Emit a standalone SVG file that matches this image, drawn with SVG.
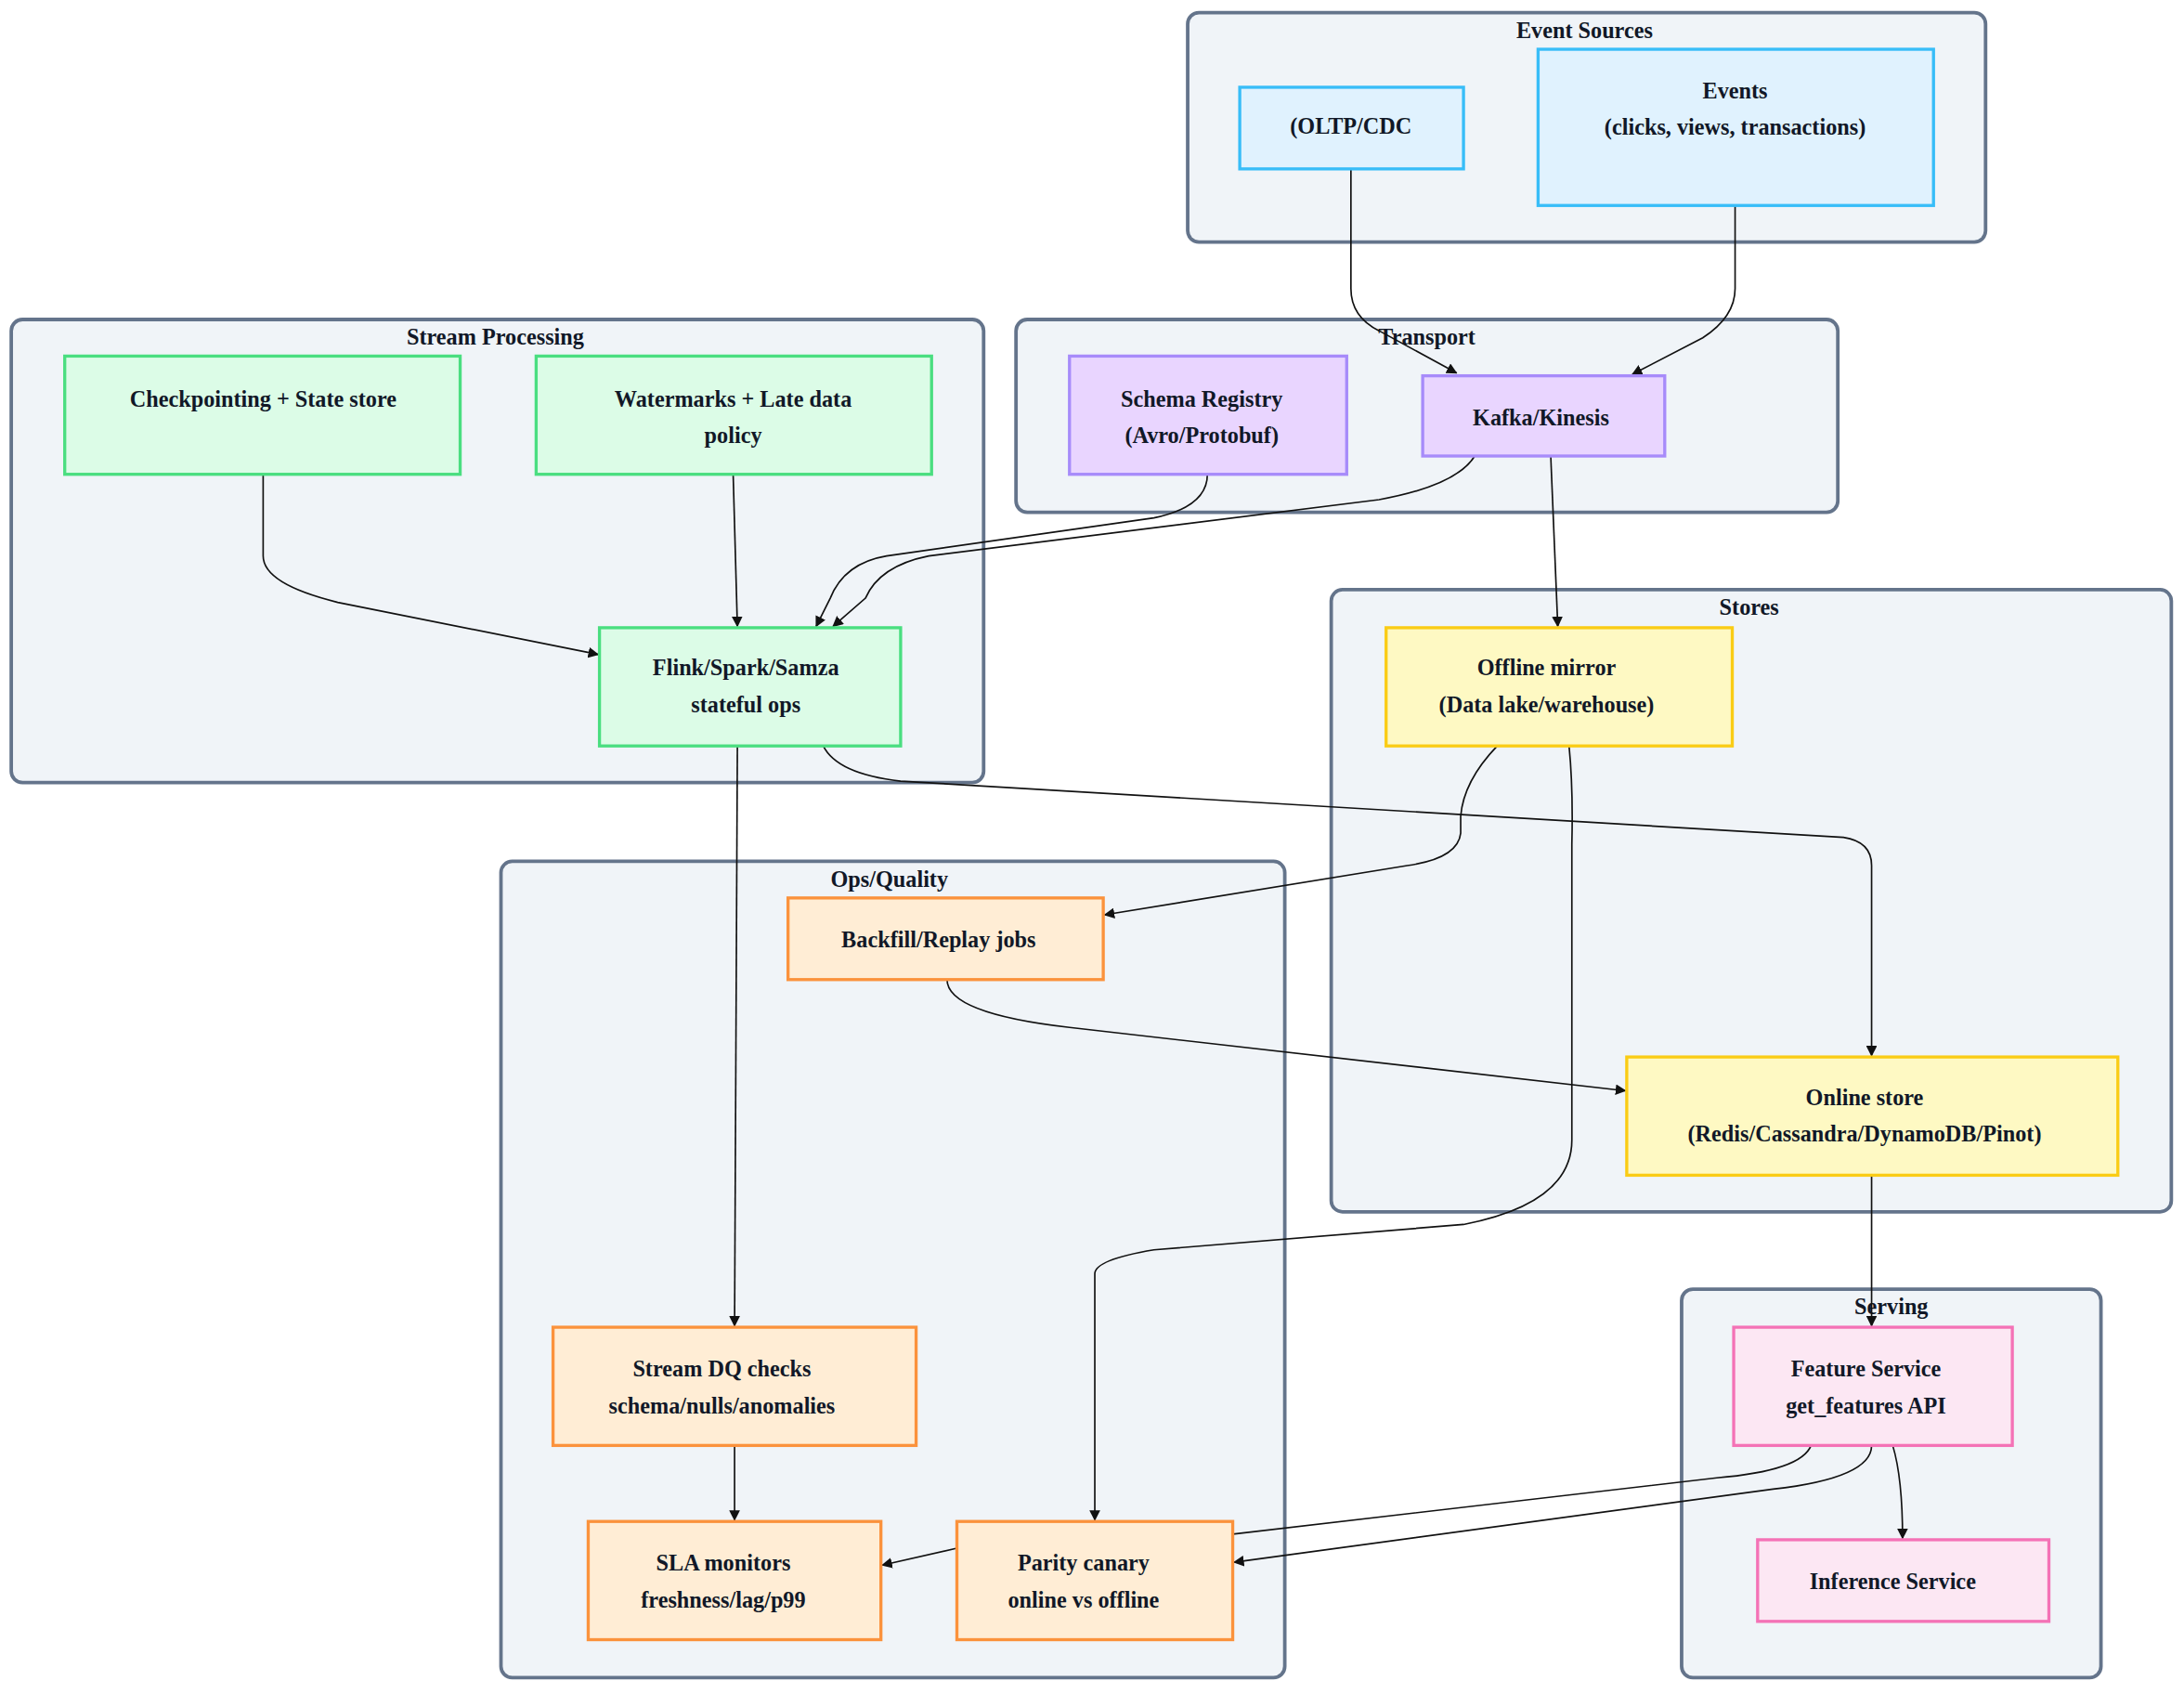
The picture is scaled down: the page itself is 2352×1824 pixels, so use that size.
<svg xmlns="http://www.w3.org/2000/svg" width="2352" height="1824" viewBox="0 0 2352 1824">
<style>
text{font-family:"Liberation Serif","Times New Roman",serif;font-weight:bold;font-size:16px;fill:#111827;text-anchor:middle}
.cl{fill:#f0f4f8;stroke:#64748b;stroke-width:2.5}
.b{fill:#e0f2fe;stroke:#38bdf8;stroke-width:2.2}
.g{fill:#dcfce7;stroke:#4ade80;stroke-width:2.2}
.p{fill:#e9d5ff;stroke:#a78bfa;stroke-width:2.2}
.y{fill:#fef9c3;stroke:#facc15;stroke-width:2.2}
.o{fill:#ffedd5;stroke:#fb923c;stroke-width:2.2}
.k{fill:#fce7f3;stroke:#f472b6;stroke-width:2.2}
.e{fill:none;stroke:#111;stroke-width:1.1}
</style>
<defs><marker id="a" viewBox="0 0 10 10" refX="9" refY="5" markerWidth="7" markerHeight="7" orient="auto"><path d="M0,0L10,5L0,10z" fill="#111"/></marker></defs>
<rect width="2352" height="1824" fill="#fff"/>
<g transform="scale(1.51546)">
<g id="clusters">
<rect class="cl" x="844" y="9" width="567" height="163" rx="8"/><text x="1126" y="27">Event Sources</text>
<rect class="cl" x="8" y="227" width="691" height="329" rx="8"/><text x="352" y="245">Stream Processing</text>
<rect class="cl" x="722" y="227" width="584" height="137" rx="8"/><text x="1014" y="245">Transport</text>
<rect class="cl" x="946" y="419" width="597" height="442" rx="8"/><text x="1243" y="437">Stores</text>
<rect class="cl" x="356" y="612" width="557" height="580" rx="8"/><text x="632" y="630">Ops/Quality</text>
<rect class="cl" x="1195" y="916" width="298" height="276" rx="8"/><text x="1344" y="934">Serving</text>
</g>
<g id="edges">
<path class="e" marker-end="url(#a)" d="M960,120V205Q960,225 980,235L1035,265"/>
<path class="e" marker-end="url(#a)" d="M1233,146V205Q1233,225 1210,240L1160,266"/>
<path class="e" marker-end="url(#a)" d="M858,337Q858,360 820,368L630,395Q600,400 590,425L580,445"/>
<path class="e" marker-end="url(#a)" d="M1048,324Q1035,345 980,355L660,395Q625,402 615,425L592,445"/>
<path class="e" marker-end="url(#a)" d="M1102,324L1107,445"/>
<path class="e" marker-end="url(#a)" d="M187,337V395Q187,415 240,428L425,465"/>
<path class="e" marker-end="url(#a)" d="M521,337L524,445"/>
<path class="e" marker-end="url(#a)" d="M524,530L522,942"/>
<path class="e" marker-end="url(#a)" d="M585,530Q595,550 640,555L1310,595Q1330,598 1330,615V750"/>
<path class="e" marker-end="url(#a)" d="M1064,530Q1040,555 1038,580V592Q1036,610 1000,615L785,650"/>
<path class="e" marker-end="url(#a)" d="M1115,530Q1118,560 1117,600V810Q1117,855 1040,870L820,888Q778,895 778,905V1080"/>
<path class="e" marker-end="url(#a)" d="M673,696Q673,720 760,730L1155,775"/>
<path class="e" marker-end="url(#a)" d="M1330,835V942"/>
<path class="e" marker-end="url(#a)" d="M522,1027V1080"/>
<path class="e" marker-end="url(#a)" d="M680,1100L627,1112"/>
<path class="e" d="M1287,1027Q1280,1045 1220,1050L876,1090"/>
<path class="e" marker-end="url(#a)" d="M1330,1027Q1330,1050 1260,1058L877,1110"/>
<path class="e" marker-end="url(#a)" d="M1345,1027Q1352,1050 1352,1093"/>
</g>
<g id="n_oltp"><rect class="b" x="881" y="62" width="159" height="58"/><text x="960" y="95">(OLTP/CDC</text></g>
<g id="n_events"><rect class="b" x="1093" y="35" width="281" height="111"/><text x="1233" y="70">Events</text><text x="1233" y="96">(clicks, views, transactions)</text></g>
<g id="n_ckpt"><rect class="g" x="46" y="253" width="281" height="84"/><text x="187" y="289">Checkpointing + State store</text></g>
<g id="n_wm"><rect class="g" x="381" y="253" width="281" height="84"/><text x="521" y="289">Watermarks + Late data</text><text x="521" y="315">policy</text></g>
<g id="n_flink"><rect class="g" x="426" y="446" width="214" height="84"/><text x="530" y="480">Flink/Spark/Samza</text><text x="530" y="506">stateful ops</text></g>
<g id="n_schema"><rect class="p" x="760" y="253" width="197" height="84"/><text x="854" y="289">Schema Registry</text><text x="854" y="315">(Avro/Protobuf)</text></g>
<g id="n_kafka"><rect class="p" x="1011" y="267" width="172" height="57"/><text x="1095" y="302">Kafka/Kinesis</text></g>
<g id="n_offline"><rect class="y" x="985" y="446" width="246" height="84"/><text x="1099" y="480">Offline mirror</text><text x="1099" y="506">(Data lake/warehouse)</text></g>
<g id="n_online"><rect class="y" x="1156" y="751" width="349" height="84"/><text x="1325" y="785">Online store</text><text x="1325" y="811">(Redis/Cassandra/DynamoDB/Pinot)</text></g>
<g id="n_backfill"><rect class="o" x="560" y="638" width="224" height="58"/><text x="667" y="673">Backfill/Replay jobs</text></g>
<g id="n_dq"><rect class="o" x="393" y="943" width="258" height="84"/><text x="513" y="978">Stream DQ checks</text><text x="513" y="1004">schema/nulls/anomalies</text></g>
<g id="n_sla"><rect class="o" x="418" y="1081" width="208" height="84"/><text x="514" y="1116">SLA monitors</text><text x="514" y="1142">freshness/lag/p99</text></g>
<g id="n_parity"><rect class="o" x="680" y="1081" width="196" height="84"/><text x="770" y="1116">Parity canary</text><text x="770" y="1142">online vs offline</text></g>
<g id="n_feature"><rect class="k" x="1232" y="943" width="198" height="84"/><text x="1326" y="978">Feature Service</text><text x="1326" y="1004">get_features API</text></g>
<g id="n_inference"><rect class="k" x="1249" y="1094" width="207" height="58"/><text x="1345" y="1129">Inference Service</text></g>
</g>
</svg>
